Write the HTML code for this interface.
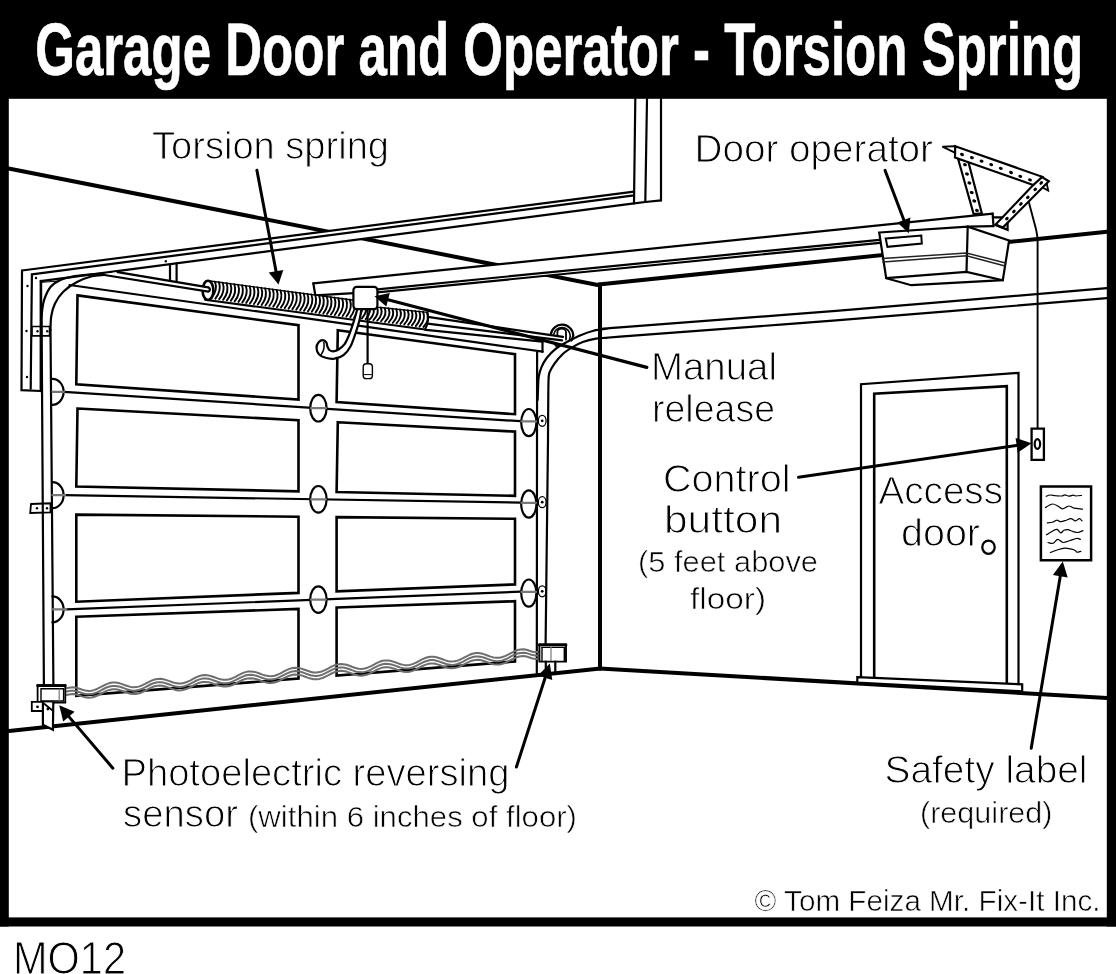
<!DOCTYPE html>
<html><head><meta charset="utf-8"><title>Garage Door and Operator - Torsion Spring</title>
<style>
html,body{margin:0;padding:0;background:#fff;}
body{width:1116px;height:974px;overflow:hidden;font-family:"Liberation Sans",sans-serif;}
svg{display:block;filter:grayscale(100%);}
svg text{font-family:"Liberation Sans",sans-serif;}
</style></head><body>
<svg width="1116" height="974" viewBox="0 0 1116 974" stroke-linecap="butt">
<rect x="0" y="0" width="1116" height="974" fill="#fff"/>
<g id="drawing" stroke-linecap="round">
<line x1="8.6" y1="168.5" x2="599.0" y2="285.2" stroke="#000" stroke-width="4.0" />
<polygon points="22.0,270.5 634.0,191.6 634.0,203.5 645.3,202.0 40.7,281.1" fill="#fff" stroke="none" stroke-width="0" stroke-linejoin="miter" />
<polyline points="22.0,270.5 634.0,191.6" fill="none" stroke="#000" stroke-width="2.2" stroke-linejoin="miter" />
<polyline points="31.9,274.3 634.0,195.4" fill="none" stroke="#000" stroke-width="2.2" stroke-linejoin="miter" />
<polyline points="40.7,281.1 634.0,203.4 645.3,202.0 661.0,200.4" fill="none" stroke="#000" stroke-width="2.2" stroke-linejoin="miter" />
<polyline points="22.0,270.5 21.5,390.2 40.7,391.0" fill="none" stroke="#000" stroke-width="2.2" stroke-linejoin="miter" />
<line x1="31.9" y1="274.3" x2="30.7" y2="388.7" stroke="#000" stroke-width="2.2" />
<line x1="635.3" y1="99.0" x2="634.0" y2="203.4" stroke="#000" stroke-width="2.2" />
<line x1="647.0" y1="99.0" x2="645.3" y2="202.0" stroke="#000" stroke-width="2.2" />
<line x1="661.0" y1="99.0" x2="661.0" y2="200.4" stroke="#000" stroke-width="2.2" />
<circle cx="27.5" cy="286" r="1.2" fill="#000"/>
<circle cx="26.5" cy="331" r="1.2" fill="#000"/>
<circle cx="27" cy="377" r="1.2" fill="#000"/>
<circle cx="36" cy="278" r="1.2" fill="#000"/>
<circle cx="165.8" cy="261.3" r="1.2" fill="#000"/>
<line x1="600.0" y1="284.5" x2="600.0" y2="668.4" stroke="#000" stroke-width="4.0" />
<line x1="598.5" y1="284.6" x2="1107.0" y2="231.7" stroke="#000" stroke-width="4.0" />
<line x1="9.0" y1="731.0" x2="600.5" y2="668.4" stroke="#000" stroke-width="4.0" />
<line x1="599.5" y1="668.4" x2="1107.0" y2="698.0" stroke="#000" stroke-width="4.0" />
<path d="M537.6,400.0 C537.7,398.3 537.8,393.9 538.0,390.0 C538.2,386.1 538.1,380.6 538.7,376.8 C539.3,373.0 540.1,370.5 541.4,367.4 C542.7,364.3 544.3,361.1 546.7,358.0 C549.1,354.9 552.6,351.4 556.0,348.7 C559.4,346.0 562.8,344.2 566.8,342.0 C570.8,339.8 575.5,337.3 580.0,335.4 C584.5,333.5 589.0,331.8 593.5,330.7 C598.0,329.6 602.4,329.2 606.8,328.7 C611.2,328.1 581.8,330.4 620.0,327.4 C658.2,324.4 754.8,317.3 836.0,310.8 C917.2,304.3 1061.8,292.0 1107.0,288.2" fill="none" stroke="#000" stroke-width="2.2" />
<path d="M548.0,440.0 C548.0,432.5 548.2,405.5 548.3,395.0 C548.4,384.5 548.4,380.7 548.7,376.8 C549.0,372.9 549.0,373.6 550.0,371.4 C551.0,369.2 552.6,366.3 554.7,363.4 C556.8,360.5 559.9,356.7 562.8,354.0 C565.7,351.3 568.8,349.4 572.1,347.4 C575.4,345.4 578.8,343.4 582.8,342.0 C586.8,340.6 592.0,339.4 596.0,338.7 C600.0,338.0 602.8,338.1 606.8,337.8 C610.8,337.5 581.8,339.6 620.0,336.7 C658.2,333.8 754.8,326.7 836.0,320.3 C917.2,313.9 1061.8,301.9 1107.0,298.2" fill="none" stroke="#000" stroke-width="2.2" />
<polygon points="313.3,283.3 880.0,225.3 880.0,242.8 377.5,292.4 354.0,293.4 315.3,295.3" fill="#fff" stroke="none" stroke-width="0" stroke-linejoin="miter" />
<line x1="313.3" y1="283.3" x2="992.8" y2="213.7" stroke="#000" stroke-width="2.2" />
<line x1="313.3" y1="283.3" x2="315.3" y2="295.3" stroke="#000" stroke-width="2.2" />
<line x1="315.3" y1="295.3" x2="354.0" y2="293.2" stroke="#000" stroke-width="2.2" />
<line x1="377.5" y1="289.3" x2="879.5" y2="239.8" stroke="#000" stroke-width="2.2" />
<line x1="377.5" y1="292.4" x2="880.0" y2="242.8" stroke="#000" stroke-width="2.2" />
<line x1="992.6" y1="213.5" x2="993.5" y2="226.2" stroke="#000" stroke-width="2.2" />
<line x1="967.7" y1="226.7" x2="993.5" y2="226.2" stroke="#000" stroke-width="2.2" />
<polygon points="879.2,232.5 967.7,226.7 1009.1,240.5 1002.8,280.2 911.3,285.2 886.2,278.2" fill="#fff" stroke="#000" stroke-width="2.2" stroke-linejoin="miter" />
<line x1="967.7" y1="226.7" x2="966.5" y2="271.9" stroke="#000" stroke-width="2.2" />
<polyline points="886.2,278.2 966.5,271.9 1002.8,280.2" fill="none" stroke="#000" stroke-width="2.2" stroke-linejoin="miter" />
<polyline points="882.4,258.6 966.5,253.0 1005.6,263.1" fill="none" stroke="#222" stroke-width="1.5" stroke-linejoin="miter" />
<polyline points="883.0,261.9 966.5,255.8 1005.0,266.0" fill="none" stroke="#222" stroke-width="1.5" stroke-linejoin="miter" />
<polygon points="885.7,238.5 921.3,235.5 921.8,243.5 887.4,246.8" fill="none" stroke="#000" stroke-width="2.0" stroke-linejoin="miter" />
<polygon points="958.0,158.5 968.4,162.0 981.8,213.3 973.7,214.2" fill="#fff" stroke="#000" stroke-width="2.2" stroke-linejoin="miter" />
<ellipse cx="965.0" cy="164.7" rx="2.0" ry="1.55" fill="#000" transform="rotate(15 965.0 164.7)"/>
<ellipse cx="967.0" cy="174.0" rx="2.0" ry="1.55" fill="#000" transform="rotate(15 967.0 174.0)"/>
<ellipse cx="969.4" cy="183.0" rx="2.0" ry="1.55" fill="#000" transform="rotate(15 969.4 183.0)"/>
<ellipse cx="971.7" cy="192.6" rx="2.0" ry="1.55" fill="#000" transform="rotate(15 971.7 192.6)"/>
<ellipse cx="974.3" cy="201.0" rx="2.0" ry="1.55" fill="#000" transform="rotate(15 974.3 201.0)"/>
<ellipse cx="977.0" cy="210.4" rx="2.0" ry="1.55" fill="#000" transform="rotate(15 977.0 210.4)"/>
<polygon points="1041.2,176.6 1048.8,181.3 1002.8,227.6 995.6,224.6" fill="#fff" stroke="#000" stroke-width="2.2" stroke-linejoin="miter" />
<ellipse cx="1041.2" cy="183.0" rx="2.0" ry="1.55" fill="#000" transform="rotate(-45 1041.2 183.0)"/>
<ellipse cx="1035.2" cy="189.4" rx="2.0" ry="1.55" fill="#000" transform="rotate(-45 1035.2 189.4)"/>
<ellipse cx="1027.8" cy="197.3" rx="2.0" ry="1.55" fill="#000" transform="rotate(-45 1027.8 197.3)"/>
<ellipse cx="1020.9" cy="204.0" rx="2.0" ry="1.55" fill="#000" transform="rotate(-45 1020.9 204.0)"/>
<ellipse cx="1013.9" cy="211.5" rx="2.0" ry="1.55" fill="#000" transform="rotate(-45 1013.9 211.5)"/>
<ellipse cx="1006.9" cy="218.7" rx="2.0" ry="1.55" fill="#000" transform="rotate(-45 1006.9 218.7)"/>
<polyline points="1046.8,183.6 1048.2,190.6 1043.4,188.0" fill="none" stroke="#000" stroke-width="1.8" stroke-linejoin="miter" />
<polygon points="955.2,146.2 1042.3,176.8 1033.2,185.0 955.0,157.5" fill="#fff" stroke="#000" stroke-width="2.2" stroke-linejoin="miter" />
<ellipse cx="962.0" cy="154.5" rx="2.0" ry="1.55" fill="#000" transform="rotate(19 962.0 154.5)"/>
<ellipse cx="971.9" cy="157.7" rx="2.0" ry="1.55" fill="#000" transform="rotate(19 971.9 157.7)"/>
<ellipse cx="981.6" cy="161.2" rx="2.0" ry="1.55" fill="#000" transform="rotate(19 981.6 161.2)"/>
<ellipse cx="991.2" cy="164.6" rx="2.0" ry="1.55" fill="#000" transform="rotate(19 991.2 164.6)"/>
<ellipse cx="1000.8" cy="168.4" rx="2.0" ry="1.55" fill="#000" transform="rotate(19 1000.8 168.4)"/>
<ellipse cx="1011.0" cy="172.5" rx="2.0" ry="1.55" fill="#000" transform="rotate(19 1011.0 172.5)"/>
<ellipse cx="1020.3" cy="176.4" rx="2.0" ry="1.55" fill="#000" transform="rotate(19 1020.3 176.4)"/>
<ellipse cx="1030.0" cy="179.9" rx="2.0" ry="1.55" fill="#000" transform="rotate(19 1030.0 179.9)"/>
<polyline points="955.4,146.2 942.4,146.6 954.8,152.6" fill="none" stroke="#000" stroke-width="1.9" stroke-linejoin="miter" />
<polyline points="993.0,217.4 1002.5,217.4" fill="none" stroke="#000" stroke-width="2.2" stroke-linejoin="miter" />
<polyline points="996.0,225.2 1007.6,229.8 1007.6,223.0" fill="none" stroke="#000" stroke-width="2.2" stroke-linejoin="miter" />
<path d="M1029,202.8 L1036.2,230 Q1037.6,236 1037.6,242 L1037.6,428" fill="none" stroke="#000" stroke-width="1.9" />
<polyline points="861.0,677.0 861.0,384.2 1018.5,372.9 1018.5,684.0" fill="none" stroke="#000" stroke-width="2.2" stroke-linejoin="miter" />
<polyline points="874.2,678.0 874.2,393.7 1006.8,386.2 1006.8,684.0" fill="none" stroke="#000" stroke-width="2.6" stroke-linejoin="miter" />
<polygon points="857.3,677.2 1022.2,684.3 1022.2,691.3 857.3,682.5" fill="#fff" stroke="#000" stroke-width="2.2" stroke-linejoin="miter" />
<ellipse cx="988.5" cy="547.2" rx="6.2" ry="6.6" fill="none" stroke="#000" stroke-width="2.3" />
<polygon points="1031.6,428.6 1043.9,428.6 1043.9,459.8 1031.6,459.8" fill="#fff" stroke="#000" stroke-width="2.3" stroke-linejoin="miter" />
<ellipse cx="1037.4" cy="444.0" rx="2.7" ry="4.8" fill="none" stroke="#000" stroke-width="2.2" />
<polygon points="1040.9,486.5 1091.1,486.5 1091.1,560.2 1040.9,560.2" fill="#fff" stroke="#000" stroke-width="2.5" stroke-linejoin="miter" />
<path d="M1046.2,496.3 C1046.8,496.1 1048.5,495.1 1050.0,495.0 C1051.6,494.9 1053.5,495.5 1055.4,495.7 C1057.4,495.8 1060.0,496.1 1061.6,496.0 C1063.2,495.8 1063.8,494.9 1065.0,494.9 C1066.2,494.9 1067.6,496.1 1069.0,496.1 C1070.4,496.2 1072.0,495.2 1073.2,495.2 C1074.3,495.2 1074.4,495.9 1075.8,496.0 C1077.2,496.0 1080.7,495.6 1081.6,495.5" fill="none" stroke="#000" stroke-width="1.2" stroke-linecap="round"/>
<path d="M1045.4,507.5 C1046.1,507.1 1048.0,505.8 1049.3,505.2 C1050.6,504.6 1051.7,503.8 1053.1,504.0 C1054.5,504.1 1056.2,505.2 1057.8,506.0 C1059.3,506.8 1061.0,508.5 1062.4,508.8 C1063.8,509.0 1065.1,507.7 1066.2,507.2 C1067.4,506.7 1068.0,505.8 1069.3,506.0 C1070.6,506.1 1071.7,507.6 1073.9,508.1 C1076.1,508.6 1081.0,508.9 1082.4,509.1" fill="none" stroke="#000" stroke-width="1.2" stroke-linecap="round"/>
<path d="M1047.4,522.9 C1048.4,522.8 1051.5,522.5 1053.1,522.0 C1054.7,521.5 1055.7,520.2 1057.0,520.2 C1058.3,520.1 1059.3,521.7 1060.8,521.7 C1062.4,521.7 1064.6,520.7 1066.2,520.2 C1067.9,519.6 1069.3,518.5 1070.8,518.6 C1072.4,518.7 1074.1,520.9 1075.5,520.9 C1076.9,520.9 1078.2,518.6 1079.3,518.6 C1080.4,518.6 1081.6,520.5 1082.1,520.9" fill="none" stroke="#000" stroke-width="1.2" stroke-linecap="round"/>
<path d="M1046.5,534.8 C1047.5,534.2 1050.6,532.1 1052.4,531.2 C1054.1,530.3 1055.6,529.1 1057.0,529.4 C1058.4,529.7 1059.7,532.6 1060.8,532.8 C1062.0,532.9 1062.8,530.8 1063.9,530.3 C1065.1,529.8 1066.2,529.5 1067.8,529.7 C1069.3,529.9 1071.5,531.1 1073.2,531.6 C1074.8,532.0 1076.2,532.6 1077.8,532.5 C1079.4,532.3 1082.0,530.9 1082.9,530.6" fill="none" stroke="#000" stroke-width="1.2" stroke-linecap="round"/>
<path d="M1048.0,542.5 C1048.9,542.6 1051.5,543.8 1053.1,543.3 C1054.7,542.8 1056.1,539.5 1057.8,539.4 C1059.4,539.3 1061.1,542.3 1063.1,542.5 C1065.2,542.7 1067.8,541.2 1070.1,540.5 C1072.4,539.8 1075.3,538.5 1077.0,538.3 C1078.7,538.2 1079.8,539.2 1080.4,539.4" fill="none" stroke="#000" stroke-width="1.2" stroke-linecap="round"/>
<path d="M1050.4,552.5 C1051.6,552.0 1055.4,550.5 1057.8,549.7 C1060.1,549.0 1062.4,548.3 1064.7,548.2 C1067.0,548.1 1069.9,548.8 1071.6,549.1 C1073.4,549.5 1074.3,549.8 1075.2,550.4 C1076.1,550.9 1076.1,552.0 1077.0,552.2 C1078.0,552.4 1080.2,551.4 1080.9,551.3" fill="none" stroke="#000" stroke-width="1.2" stroke-linecap="round"/>
<path d="M41.5,322.0 C41.6,320.0 41.7,313.9 42.2,310.0 C42.7,306.1 43.2,302.3 44.6,298.5 C46.0,294.7 47.9,290.1 50.5,287.0 C53.1,283.9 56.4,281.8 60.5,280.0 C64.6,278.2 70.1,277.1 75.0,276.2 C79.9,275.3 85.7,275.0 90.0,274.6 C94.3,274.2 99.2,273.8 101.0,273.6" fill="none" stroke="#000" stroke-width="2.2" />
<path d="M50.5,330.0 C50.6,327.7 50.5,320.4 51.3,316.0 C52.0,311.6 53.0,307.6 55.0,303.5 C57.0,299.4 59.8,295.1 63.5,291.5 C67.2,287.9 72.2,284.5 77.0,282.0 C81.8,279.5 87.5,277.5 92.0,276.3 C96.5,275.1 102.0,275.1 104.0,274.8" fill="none" stroke="#000" stroke-width="2.2" />
<line x1="40.9" y1="281.0" x2="40.9" y2="391.0" stroke="#000" stroke-width="2.6" />
<line x1="41.6" y1="322.0" x2="43.9" y2="685.0" stroke="#000" stroke-width="2.2" />
<line x1="50.5" y1="330.0" x2="53.4" y2="685.0" stroke="#000" stroke-width="2.2" />
<polyline points="41.9,282.3 57.0,281.2 50.5,286.4" fill="none" stroke="#000" stroke-width="1.0" stroke-linejoin="miter" />
<line x1="170.0" y1="264.5" x2="170.0" y2="280.3" stroke="#000" stroke-width="2.2" />
<line x1="176.6" y1="263.7" x2="176.6" y2="281.3" stroke="#000" stroke-width="2.2" />
<line x1="69.5" y1="285.0" x2="542.5" y2="351.6" stroke="#000" stroke-width="2.2" />
<line x1="542.5" y1="341.7" x2="542.5" y2="352.0" stroke="#000" stroke-width="2.2" />
<line x1="426.0" y1="329.8" x2="542.5" y2="341.7" stroke="#000" stroke-width="2.2" />
<line x1="537.1" y1="352.5" x2="536.8" y2="673.5" stroke="#000" stroke-width="2.2" />
<polygon points="77.5,295.4 298.5,325.2 298.5,399.5 76.3,384.4" fill="none" stroke="#000" stroke-width="2.6" stroke-linejoin="miter" />
<polygon points="337.8,330.3 515.0,354.2 515.0,414.2 336.6,402.1" fill="none" stroke="#000" stroke-width="2.6" stroke-linejoin="miter" />
<polygon points="77.5,408.5 298.5,420.2 298.5,491.3 76.3,486.6" fill="none" stroke="#000" stroke-width="2.6" stroke-linejoin="miter" />
<polygon points="337.8,422.2 515.0,431.6 515.0,495.8 336.6,492.1" fill="none" stroke="#000" stroke-width="2.6" stroke-linejoin="miter" />
<polygon points="76.3,514.6 298.5,516.7 298.5,592.9 76.3,601.7" fill="none" stroke="#000" stroke-width="2.6" stroke-linejoin="miter" />
<polygon points="336.6,517.1 515.0,518.8 515.0,584.4 336.6,591.4" fill="none" stroke="#000" stroke-width="2.6" stroke-linejoin="miter" />
<polygon points="76.3,616.8 298.5,608.9 298.5,678.5 76.3,695.9" fill="none" stroke="#000" stroke-width="2.6" stroke-linejoin="miter" />
<polygon points="336.6,607.5 515.0,601.2 515.0,661.5 336.6,675.5" fill="none" stroke="#000" stroke-width="2.6" stroke-linejoin="miter" />
<line x1="64.0" y1="391.8" x2="520.5" y2="421.2" stroke="#000" stroke-width="2.2" />
<line x1="65.0" y1="495.2" x2="520.8" y2="502.6" stroke="#000" stroke-width="2.2" />
<line x1="66.3" y1="609.4" x2="520.8" y2="591.7" stroke="#000" stroke-width="2.2" />
<path d="M52.4,378.8 A11.2,13 0 0 1 52.4,404.8" fill="none" stroke="#000" stroke-width="2.2" />
<line x1="52.4" y1="391.8" x2="64.0" y2="391.8" stroke="#777" stroke-width="2.2" />
<ellipse cx="318.4" cy="408.2" rx="8.2" ry="13.3" fill="#fff" stroke="#000" stroke-width="2.2" />
<line x1="310.9" y1="408.2" x2="325.9" y2="408.2" stroke="#777" stroke-width="2.2" />
<ellipse cx="528.8" cy="422.6" rx="7.6" ry="13.6" fill="#fff" stroke="#000" stroke-width="2.2" />
<line x1="521.5" y1="421.4" x2="536.0" y2="421.4" stroke="#777" stroke-width="2.2" />
<ellipse cx="542.2" cy="420.8" rx="3.9" ry="5.5" fill="#fff" stroke="#000" stroke-width="1.3" />
<circle cx="542.2" cy="420.8" r="1.4" fill="#000"/>
<path d="M52.4,482.2 A11.2,13 0 0 1 52.4,508.2" fill="none" stroke="#000" stroke-width="2.2" />
<line x1="52.4" y1="495.2" x2="65.0" y2="495.2" stroke="#777" stroke-width="2.2" />
<ellipse cx="318.4" cy="499.3" rx="8.2" ry="13.3" fill="#fff" stroke="#000" stroke-width="2.2" />
<line x1="310.9" y1="499.3" x2="325.9" y2="499.3" stroke="#777" stroke-width="2.2" />
<ellipse cx="528.8" cy="504.0" rx="7.6" ry="13.6" fill="#fff" stroke="#000" stroke-width="2.2" />
<line x1="521.5" y1="502.8" x2="536.0" y2="502.8" stroke="#777" stroke-width="2.2" />
<ellipse cx="542.2" cy="502.2" rx="3.9" ry="5.5" fill="#fff" stroke="#000" stroke-width="1.3" />
<circle cx="542.2" cy="502.2" r="1.4" fill="#000"/>
<path d="M52.4,596.4 A11.2,13 0 0 1 52.4,622.4" fill="none" stroke="#000" stroke-width="2.2" />
<line x1="52.4" y1="609.4" x2="66.3" y2="609.4" stroke="#777" stroke-width="2.2" />
<ellipse cx="318.4" cy="599.6" rx="8.2" ry="13.3" fill="#fff" stroke="#000" stroke-width="2.2" />
<line x1="310.9" y1="599.6" x2="325.9" y2="599.6" stroke="#777" stroke-width="2.2" />
<ellipse cx="528.8" cy="593.1" rx="7.6" ry="13.6" fill="#fff" stroke="#000" stroke-width="2.2" />
<line x1="521.5" y1="591.9" x2="536.0" y2="591.9" stroke="#777" stroke-width="2.2" />
<ellipse cx="542.2" cy="591.3" rx="3.9" ry="5.5" fill="#fff" stroke="#000" stroke-width="1.3" />
<circle cx="542.2" cy="591.3" r="1.4" fill="#000"/>
<polygon points="31.9,326.5 49.6,326.5 49.6,335.8 31.9,335.8" fill="none" stroke="#000" stroke-width="1.7" stroke-linejoin="miter" />
<circle cx="37.5" cy="331.3" r="1.2" fill="#000"/>
<circle cx="47.2" cy="331.3" r="1.2" fill="#000"/>
<polygon points="31.0,504.0 50.5,503.3 50.5,512.3 30.2,513.0" fill="none" stroke="#000" stroke-width="1.8" stroke-linejoin="miter" />
<circle cx="37" cy="508.3" r="1.2" fill="#000"/>
<circle cx="47" cy="508.3" r="1.2" fill="#000"/>
<line x1="548.0" y1="440.0" x2="545.6" y2="644.0" stroke="#000" stroke-width="2.2" />
<polygon points="210.0,281.0 354.0,300.2 378.0,307.2 427.5,312.4 425.0,329.6 205,299.7" fill="#fff" stroke="none"/>
<path d="M215.0,281.7 Q218.0,289.9 211.5,298.2" fill="none" stroke="#000" stroke-width="1.9" />
<path d="M218.9,282.2 Q221.9,290.4 215.4,298.7" fill="none" stroke="#000" stroke-width="1.9" />
<path d="M222.7,282.7 Q225.7,291.0 219.2,299.2" fill="none" stroke="#000" stroke-width="1.9" />
<path d="M226.6,283.2 Q229.6,291.5 223.1,299.8" fill="none" stroke="#000" stroke-width="1.9" />
<path d="M230.4,283.7 Q233.4,292.0 226.9,300.3" fill="none" stroke="#000" stroke-width="1.9" />
<path d="M234.3,284.2 Q237.3,292.5 230.8,300.8" fill="none" stroke="#000" stroke-width="1.9" />
<path d="M238.1,284.7 Q241.1,293.0 234.6,301.3" fill="none" stroke="#000" stroke-width="1.9" />
<path d="M242.0,285.3 Q245.0,293.6 238.5,301.9" fill="none" stroke="#000" stroke-width="1.9" />
<path d="M245.8,285.8 Q248.8,294.1 242.3,302.4" fill="none" stroke="#000" stroke-width="1.9" />
<path d="M249.7,286.3 Q252.7,294.6 246.2,302.9" fill="none" stroke="#000" stroke-width="1.9" />
<path d="M253.5,286.8 Q256.5,295.1 250.0,303.4" fill="none" stroke="#000" stroke-width="1.9" />
<path d="M257.4,287.3 Q260.4,295.6 253.9,304.0" fill="none" stroke="#000" stroke-width="1.9" />
<path d="M261.3,287.8 Q264.3,296.1 257.8,304.5" fill="none" stroke="#000" stroke-width="1.9" />
<path d="M265.1,288.3 Q268.1,296.7 261.6,305.0" fill="none" stroke="#000" stroke-width="1.9" />
<path d="M269.0,288.8 Q272.0,297.2 265.5,305.5" fill="none" stroke="#000" stroke-width="1.9" />
<path d="M272.8,289.4 Q275.8,297.7 269.3,306.0" fill="none" stroke="#000" stroke-width="1.9" />
<path d="M276.7,289.9 Q279.7,298.2 273.2,306.6" fill="none" stroke="#000" stroke-width="1.9" />
<path d="M280.5,290.4 Q283.5,298.7 277.0,307.1" fill="none" stroke="#000" stroke-width="1.9" />
<path d="M284.4,290.9 Q287.4,299.3 280.9,307.6" fill="none" stroke="#000" stroke-width="1.9" />
<path d="M288.2,291.4 Q291.2,299.8 284.7,308.1" fill="none" stroke="#000" stroke-width="1.9" />
<path d="M292.1,291.9 Q295.1,300.3 288.6,308.7" fill="none" stroke="#000" stroke-width="1.9" />
<path d="M295.9,292.4 Q298.9,300.8 292.4,309.2" fill="none" stroke="#000" stroke-width="1.9" />
<path d="M299.8,292.9 Q302.8,301.3 296.3,309.7" fill="none" stroke="#000" stroke-width="1.9" />
<path d="M303.7,293.5 Q306.7,301.8 300.2,310.2" fill="none" stroke="#000" stroke-width="1.9" />
<path d="M307.5,294.0 Q310.5,302.4 304.0,310.8" fill="none" stroke="#000" stroke-width="1.9" />
<path d="M311.4,294.5 Q314.4,302.9 307.9,311.3" fill="none" stroke="#000" stroke-width="1.9" />
<path d="M315.2,295.0 Q318.2,303.4 311.7,311.8" fill="none" stroke="#000" stroke-width="1.9" />
<path d="M319.1,295.5 Q322.1,303.9 315.6,312.3" fill="none" stroke="#000" stroke-width="1.9" />
<path d="M322.9,296.0 Q325.9,304.4 319.4,312.9" fill="none" stroke="#000" stroke-width="1.9" />
<path d="M326.8,296.5 Q329.8,305.0 323.3,313.4" fill="none" stroke="#000" stroke-width="1.9" />
<path d="M330.6,297.0 Q333.6,305.5 327.1,313.9" fill="none" stroke="#000" stroke-width="1.9" />
<path d="M334.5,297.6 Q337.5,306.0 331.0,314.4" fill="none" stroke="#000" stroke-width="1.9" />
<path d="M338.3,298.1 Q341.3,306.5 334.8,315.0" fill="none" stroke="#000" stroke-width="1.9" />
<path d="M342.2,298.6 Q345.2,307.0 338.7,315.5" fill="none" stroke="#000" stroke-width="1.9" />
<path d="M346.1,299.1 Q349.1,307.6 342.6,316.0" fill="none" stroke="#000" stroke-width="1.9" />
<path d="M349.9,299.6 Q352.9,308.1 346.4,316.5" fill="none" stroke="#000" stroke-width="1.9" />
<path d="M353.8,300.1 Q356.8,308.6 350.3,317.1" fill="none" stroke="#000" stroke-width="1.9" />
<path d="M357.6,301.3 Q360.6,309.4 354.1,317.6" fill="none" stroke="#000" stroke-width="1.9" />
<path d="M361.5,302.4 Q364.5,310.2 358.0,318.1" fill="none" stroke="#000" stroke-width="1.9" />
<path d="M365.3,303.5 Q368.3,311.1 361.8,318.6" fill="none" stroke="#000" stroke-width="1.9" />
<path d="M369.2,304.6 Q372.2,311.9 365.7,319.2" fill="none" stroke="#000" stroke-width="1.9" />
<path d="M373.0,305.8 Q376.0,312.7 369.5,319.7" fill="none" stroke="#000" stroke-width="1.9" />
<path d="M376.9,306.9 Q379.9,313.5 373.4,320.2" fill="none" stroke="#000" stroke-width="1.9" />
<path d="M380.7,307.5 Q383.7,314.1 377.2,320.7" fill="none" stroke="#000" stroke-width="1.9" />
<path d="M384.6,307.9 Q387.6,314.6 381.1,321.2" fill="none" stroke="#000" stroke-width="1.9" />
<path d="M388.5,308.3 Q391.5,315.0 385.0,321.8" fill="none" stroke="#000" stroke-width="1.9" />
<path d="M392.3,308.7 Q395.3,315.5 388.8,322.3" fill="none" stroke="#000" stroke-width="1.9" />
<path d="M396.2,309.1 Q399.2,316.0 392.7,322.8" fill="none" stroke="#000" stroke-width="1.9" />
<path d="M400.0,309.5 Q403.0,316.4 396.5,323.3" fill="none" stroke="#000" stroke-width="1.9" />
<path d="M403.9,309.9 Q406.9,316.9 400.4,323.9" fill="none" stroke="#000" stroke-width="1.9" />
<path d="M407.7,310.3 Q410.7,317.4 404.2,324.4" fill="none" stroke="#000" stroke-width="1.9" />
<path d="M411.6,310.7 Q414.6,317.8 408.1,324.9" fill="none" stroke="#000" stroke-width="1.9" />
<path d="M415.4,311.1 Q418.4,318.3 411.9,325.4" fill="none" stroke="#000" stroke-width="1.9" />
<path d="M419.3,311.5 Q422.3,318.8 415.8,326.0" fill="none" stroke="#000" stroke-width="1.9" />
<path d="M423.1,311.9 Q426.1,319.2 419.6,326.5" fill="none" stroke="#000" stroke-width="1.9" />
<path d="M427.0,312.3 Q430.0,319.7 423.5,327.0" fill="none" stroke="#000" stroke-width="1.9" />
<polyline points="210.0,281.0 354.0,300.2 378.0,307.2 427.5,312.4" fill="none" stroke="#000" stroke-width="1.4"/>
<line x1="205.0" y1="299.7" x2="425.0" y2="329.6" stroke="#000" stroke-width="2.0" />
<path d="M427.5,312.4 Q429.5,321 425.0,329.6" fill="none" stroke="#000" stroke-width="2.0" />
<ellipse cx="208.0" cy="290.4" rx="5.4" ry="9.6" fill="#fff" stroke="#000" stroke-width="2.6" />
<path d="M117.6,272.1 L208.2,287.3 Q211.6,289.6 208.2,291.7 L101.3,274.5 Z" fill="#fff" stroke="none"/>
<path d="M117.6,272.1 L208.2,287.3 Q211.8,289.6 208.2,291.7 L101.3,274.5" fill="none" stroke="#000" stroke-width="2.2" />
<line x1="427.8" y1="316.9" x2="563.0" y2="336.9" stroke="#000" stroke-width="2.2" />
<line x1="427.5" y1="323.7" x2="562.0" y2="340.4" stroke="#000" stroke-width="2.2" />
<path d="M550.8,334.5 A11.3,11.3 0 0 1 573.3,335.5 L571.5,340.5" fill="none" stroke="#000" stroke-width="2.2" />
<path d="M553.6,334.9 A8.4,8.8 0 0 1 570.3,336 L569.3,341" fill="none" stroke="#000" stroke-width="1.6" />
<path d="M557.4,335.6 L557.4,332.2 A4.3,3.6 0 0 1 566,332.2 L566,339.5" fill="none" stroke="#000" stroke-width="1.8" />
<path d="M553.2,342 L560.5,343.6 L559,347.6 L555,346.4 Z" fill="#000"/>
<path d="M361.4,309.5 C361.1,311.2 360.4,316.3 359.5,320.0 C358.6,323.7 357.5,327.4 356.0,331.8 C354.5,336.2 352.7,342.3 350.6,346.2 C348.5,350.1 346.2,353.0 343.5,355.1 C340.8,357.2 337.5,358.2 334.5,358.7 C331.5,359.1 328.2,358.6 325.6,357.8 C323.0,357.1 320.4,355.8 318.9,354.2 C317.4,352.6 316.6,350.0 316.5,348.0 C316.4,346.0 317.5,343.5 318.6,342.2 C319.7,340.9 321.6,340.2 322.9,340.2 C324.2,340.2 325.6,341.4 326.3,342.4 C327.0,343.4 327.1,345.6 327.3,346.2 L327.3,346.2 C327.6,346.8 328.2,348.9 329.1,349.8 C330.0,350.7 331.2,351.3 332.7,351.3 C334.2,351.3 336.2,351.0 338.1,349.8 C340.1,348.6 342.6,346.8 344.4,344.4 C346.2,342.0 347.4,339.0 348.9,335.4 C350.4,331.8 351.9,327.2 353.3,322.9 C354.7,318.6 356.6,311.7 357.2,309.5" fill="#fff" stroke="#000" stroke-width="2.2" />
<path d="M323.8,342.2 Q325.2,349 321.3,354.4" fill="none" stroke="#000" stroke-width="1.5" />
<line x1="367.6" y1="309.0" x2="367.6" y2="364.0" stroke="#000" stroke-width="2.2" />
<rect x="363.2" y="363.8" width="9.2" height="14.8" rx="3.2" fill="#fff" stroke="#000" stroke-width="1.4"/>
<line x1="363.4" y1="374.6" x2="372.2" y2="374.6" stroke="#000" stroke-width="1.0" />
<rect x="353.4" y="286.8" width="24" height="22.3" rx="3.4" fill="#fff" stroke="#000" stroke-width="2.2"/>
<path d="M64.5,688.6 L67.5,687.9 L70.5,687.4 L73.5,687.3 L76.5,687.8 L79.5,688.8 L82.5,689.8 L85.5,690.6 L88.5,690.9 L91.5,690.7 L94.5,689.9 L97.5,688.7 L100.5,687.2 L103.5,685.6 L106.5,684.1 L109.5,683.1 L112.5,682.5 L115.5,682.5 L118.5,683.0 L121.5,683.9 L124.5,685.0 L127.5,686.0 L130.5,686.9 L133.5,687.3 L136.5,687.1 L139.5,686.4 L142.5,685.2 L145.5,683.7 L148.5,682.1 L151.5,680.6 L154.5,679.5 L157.5,678.9 L160.5,678.8 L163.5,679.2 L166.5,680.1 L169.5,681.1 L172.5,682.2 L175.5,683.1 L178.5,683.6 L181.5,683.5 L184.5,682.8 L187.5,681.7 L190.5,680.3 L193.5,678.7 L196.5,677.1 L199.5,676.0 L202.5,675.2 L205.5,675.1 L208.5,675.4 L211.5,676.2 L214.5,677.3 L217.5,678.4 L220.5,679.3 L223.5,679.8 L226.5,679.8 L229.5,679.3 L232.5,678.2 L235.5,676.8 L238.5,675.2 L241.5,673.7 L244.5,672.4 L247.5,671.6 L250.5,671.4 L253.5,671.7 L256.5,672.4 L259.5,673.5 L262.5,674.6 L265.5,675.5 L268.5,676.1 L271.5,676.2 L274.5,675.7 L277.5,674.7 L280.5,673.3 L283.5,671.7 L286.5,670.2 L289.5,668.9 L292.5,668.0 L295.5,667.7 L298.5,667.9 L301.5,668.6 L304.5,669.7 L307.5,670.8 L310.5,671.8 L313.5,672.4 L316.5,672.5 L319.5,672.1 L322.5,671.2 L325.5,669.8 L328.5,668.3 L331.5,666.7 L334.5,665.3 L337.5,664.4 L340.5,664.0 L343.5,664.2 L346.5,664.8 L349.5,665.8 L352.5,667.0 L355.5,668.0 L358.5,668.7 L361.5,668.9 L364.5,668.5 L367.5,667.7 L370.5,666.4 L373.5,664.8 L376.5,663.2 L379.5,661.8 L382.5,660.8 L385.5,660.4 L388.5,660.5 L391.5,661.1 L394.5,662.0 L397.5,663.1 L400.5,664.2 L403.5,664.9 L406.5,665.2 L409.5,664.9 L412.5,664.1 L415.5,662.9 L418.5,661.3 L421.5,659.7 L424.5,658.3 L427.5,657.3 L430.5,656.7 L433.5,656.7 L436.5,657.3 L439.5,658.2 L442.5,659.3 L445.5,660.4 L448.5,661.2 L451.5,661.5 L454.5,661.3 L457.5,660.6 L460.5,659.4 L463.5,657.9 L466.5,656.3 L469.5,654.8 L472.5,653.7 L475.5,653.1 L478.5,653.0 L481.5,653.5 L484.5,654.4 L487.5,655.5 L490.5,656.6 L493.5,657.4 L496.5,657.8 L499.5,657.7 L502.5,657.0 L505.5,655.9 L508.5,654.4 L511.5,652.8 L514.5,651.3 L517.5,650.1 L520.5,649.5 L523.5,649.3 L526.5,649.7 L529.5,650.7 L532.5,651.7 L535.5,652.1 L538.5,652.0 L541.5,652.0" fill="none" stroke="#6e6e6e" stroke-width="2.0" stroke-linejoin="round"/>
<path d="M64.5,692.0 L67.5,691.3 L70.5,690.8 L73.5,690.7 L76.5,691.2 L79.5,692.2 L82.5,693.2 L85.5,694.0 L88.5,694.3 L91.5,694.1 L94.5,693.3 L97.5,692.1 L100.5,690.6 L103.5,689.0 L106.5,687.5 L109.5,686.5 L112.5,685.9 L115.5,685.9 L118.5,686.4 L121.5,687.3 L124.5,688.4 L127.5,689.4 L130.5,690.3 L133.5,690.7 L136.5,690.5 L139.5,689.8 L142.5,688.6 L145.5,687.1 L148.5,685.5 L151.5,684.0 L154.5,682.9 L157.5,682.3 L160.5,682.2 L163.5,682.6 L166.5,683.5 L169.5,684.5 L172.5,685.6 L175.5,686.5 L178.5,687.0 L181.5,686.9 L184.5,686.2 L187.5,685.1 L190.5,683.7 L193.5,682.1 L196.5,680.5 L199.5,679.4 L202.5,678.6 L205.5,678.5 L208.5,678.8 L211.5,679.6 L214.5,680.7 L217.5,681.8 L220.5,682.7 L223.5,683.2 L226.5,683.2 L229.5,682.7 L232.5,681.6 L235.5,680.2 L238.5,678.6 L241.5,677.1 L244.5,675.8 L247.5,675.0 L250.5,674.8 L253.5,675.1 L256.5,675.8 L259.5,676.9 L262.5,678.0 L265.5,678.9 L268.5,679.5 L271.5,679.6 L274.5,679.1 L277.5,678.1 L280.5,676.7 L283.5,675.1 L286.5,673.6 L289.5,672.3 L292.5,671.4 L295.5,671.1 L298.5,671.3 L301.5,672.0 L304.5,673.1 L307.5,674.2 L310.5,675.2 L313.5,675.8 L316.5,675.9 L319.5,675.5 L322.5,674.6 L325.5,673.2 L328.5,671.7 L331.5,670.1 L334.5,668.7 L337.5,667.8 L340.5,667.4 L343.5,667.6 L346.5,668.2 L349.5,669.2 L352.5,670.4 L355.5,671.4 L358.5,672.1 L361.5,672.3 L364.5,671.9 L367.5,671.1 L370.5,669.8 L373.5,668.2 L376.5,666.6 L379.5,665.2 L382.5,664.2 L385.5,663.8 L388.5,663.9 L391.5,664.5 L394.5,665.4 L397.5,666.5 L400.5,667.6 L403.5,668.3 L406.5,668.6 L409.5,668.3 L412.5,667.5 L415.5,666.3 L418.5,664.7 L421.5,663.1 L424.5,661.7 L427.5,660.7 L430.5,660.1 L433.5,660.1 L436.5,660.7 L439.5,661.6 L442.5,662.7 L445.5,663.8 L448.5,664.6 L451.5,664.9 L454.5,664.7 L457.5,664.0 L460.5,662.8 L463.5,661.3 L466.5,659.7 L469.5,658.2 L472.5,657.1 L475.5,656.5 L478.5,656.4 L481.5,656.9 L484.5,657.8 L487.5,658.9 L490.5,660.0 L493.5,660.8 L496.5,661.2 L499.5,661.1 L502.5,660.4 L505.5,659.3 L508.5,657.8 L511.5,656.2 L514.5,654.7 L517.5,653.5 L520.5,652.9 L523.5,652.7 L526.5,653.1 L529.5,654.1 L532.5,655.1 L535.5,655.5 L538.5,655.4 L541.5,655.4" fill="none" stroke="#6e6e6e" stroke-width="2.0" stroke-linejoin="round"/>
<path d="M64.5,695.4 L67.5,694.7 L70.5,694.2 L73.5,694.1 L76.5,694.6 L79.5,695.6 L82.5,696.6 L85.5,697.4 L88.5,697.7 L91.5,697.5 L94.5,696.7 L97.5,695.5 L100.5,694.0 L103.5,692.4 L106.5,690.9 L109.5,689.9 L112.5,689.3 L115.5,689.3 L118.5,689.8 L121.5,690.7 L124.5,691.8 L127.5,692.8 L130.5,693.7 L133.5,694.1 L136.5,693.9 L139.5,693.2 L142.5,692.0 L145.5,690.5 L148.5,688.9 L151.5,687.4 L154.5,686.3 L157.5,685.7 L160.5,685.6 L163.5,686.0 L166.5,686.9 L169.5,687.9 L172.5,689.0 L175.5,689.9 L178.5,690.4 L181.5,690.3 L184.5,689.6 L187.5,688.5 L190.5,687.1 L193.5,685.5 L196.5,683.9 L199.5,682.8 L202.5,682.0 L205.5,681.9 L208.5,682.2 L211.5,683.0 L214.5,684.1 L217.5,685.2 L220.5,686.1 L223.5,686.6 L226.5,686.6 L229.5,686.1 L232.5,685.0 L235.5,683.6 L238.5,682.0 L241.5,680.5 L244.5,679.2 L247.5,678.4 L250.5,678.2 L253.5,678.5 L256.5,679.2 L259.5,680.3 L262.5,681.4 L265.5,682.3 L268.5,682.9 L271.5,683.0 L274.5,682.5 L277.5,681.5 L280.5,680.1 L283.5,678.5 L286.5,677.0 L289.5,675.7 L292.5,674.8 L295.5,674.5 L298.5,674.7 L301.5,675.4 L304.5,676.5 L307.5,677.6 L310.5,678.6 L313.5,679.2 L316.5,679.3 L319.5,678.9 L322.5,678.0 L325.5,676.6 L328.5,675.1 L331.5,673.5 L334.5,672.1 L337.5,671.2 L340.5,670.8 L343.5,671.0 L346.5,671.6 L349.5,672.6 L352.5,673.8 L355.5,674.8 L358.5,675.5 L361.5,675.7 L364.5,675.3 L367.5,674.5 L370.5,673.2 L373.5,671.6 L376.5,670.0 L379.5,668.6 L382.5,667.6 L385.5,667.2 L388.5,667.3 L391.5,667.9 L394.5,668.8 L397.5,669.9 L400.5,671.0 L403.5,671.7 L406.5,672.0 L409.5,671.7 L412.5,670.9 L415.5,669.7 L418.5,668.1 L421.5,666.5 L424.5,665.1 L427.5,664.1 L430.5,663.5 L433.5,663.5 L436.5,664.1 L439.5,665.0 L442.5,666.1 L445.5,667.2 L448.5,668.0 L451.5,668.3 L454.5,668.1 L457.5,667.4 L460.5,666.2 L463.5,664.7 L466.5,663.1 L469.5,661.6 L472.5,660.5 L475.5,659.9 L478.5,659.8 L481.5,660.3 L484.5,661.2 L487.5,662.3 L490.5,663.4 L493.5,664.2 L496.5,664.6 L499.5,664.5 L502.5,663.8 L505.5,662.7 L508.5,661.2 L511.5,659.6 L514.5,658.1 L517.5,656.9 L520.5,656.3 L523.5,656.1 L526.5,656.5 L529.5,657.5 L532.5,658.5 L535.5,658.9 L538.5,658.8 L541.5,658.8" fill="none" stroke="#6e6e6e" stroke-width="2.0" stroke-linejoin="round"/>
<polygon points="37.6,685.2 65.3,685.2 65.3,702.6 37.6,702.6" fill="#fff" stroke="#000" stroke-width="1.8" stroke-linejoin="miter" />
<line x1="37.6" y1="685.7" x2="65.3" y2="685.7" stroke="#000" stroke-width="2.8" />
<polygon points="41.0,688.8 63.6,688.8 63.6,701.0 41.0,701.0" fill="none" stroke="#000" stroke-width="1.4" stroke-linejoin="miter" />
<line x1="59.2" y1="689.0" x2="59.2" y2="700.6" stroke="#777" stroke-width="1.2" />
<polygon points="31.8,701.8 51.6,701.8 51.6,711.0 31.8,711.0" fill="#fff" stroke="#000" stroke-width="1.8" stroke-linejoin="miter" />
<polyline points="42.9,702.6 42.9,724.8 52.9,729.7 53.3,702.6" fill="#fff" stroke="#000" stroke-width="2.2" stroke-linejoin="miter" />
<line x1="43.2" y1="703.0" x2="52.6" y2="710.5" stroke="#000" stroke-width="1.8" />
<circle cx="37.5" cy="706.8" r="1.4" fill="#000"/>
<circle cx="47.9" cy="709.0" r="1.4" fill="#000"/>
<polygon points="539.4,644.4 566.0,644.4 566.0,661.6 539.4,661.6" fill="#fff" stroke="#000" stroke-width="1.9" stroke-linejoin="miter" />
<line x1="539.4" y1="644.9" x2="566.0" y2="644.9" stroke="#000" stroke-width="2.8" />
<polyline points="542.0,647.4 564.3,647.4 564.3,660.6" fill="none" stroke="#000" stroke-width="1.4" stroke-linejoin="miter" />
<line x1="542.0" y1="647.4" x2="542.0" y2="661.0" stroke="#000" stroke-width="1.4" />
<line x1="551.0" y1="647.5" x2="551.0" y2="660.5" stroke="#777" stroke-width="1.2" />
<polyline points="545.8,661.6 545.8,672.2" fill="none" stroke="#000" stroke-width="2.2" stroke-linejoin="miter" />
<polyline points="555.3,661.6 555.3,671.2" fill="none" stroke="#000" stroke-width="2.2" stroke-linejoin="miter" />
<line x1="256.9" y1="170.2" x2="276.4" y2="273.2" stroke="#000" stroke-width="3.0" />
<polygon points="278.5,284.5 268.7,272.6 283.3,269.9" fill="#000"/>
<line x1="885.0" y1="170.3" x2="904.6" y2="222.0" stroke="#000" stroke-width="3.0" />
<polygon points="908.8,233.2 897.3,222.6 910.4,217.6" fill="#000"/>
<line x1="646.8" y1="367.4" x2="386.1" y2="299.2" stroke="#000" stroke-width="3.2" />
<polygon points="374.5,296.2 389.8,293.0 386.3,306.5" fill="#000"/>
<line x1="798.5" y1="477.2" x2="1018.6" y2="445.1" stroke="#000" stroke-width="3.0" />
<polygon points="1031.5,443.2 1017.7,452.8 1015.6,437.9" fill="#000"/>
<line x1="112.9" y1="768.2" x2="67.6" y2="715.1" stroke="#000" stroke-width="3.0" />
<polygon points="59.2,705.2 74.6,711.8 63.2,721.5" fill="#000"/>
<line x1="516.4" y1="767.0" x2="545.8" y2="675.8" stroke="#000" stroke-width="3.0" />
<polygon points="549.8,663.4 552.3,680.0 538.1,675.4" fill="#000"/>
<line x1="1031.2" y1="748.2" x2="1060.6" y2="574.3" stroke="#000" stroke-width="3.0" />
<polygon points="1062.8,561.5 1067.7,577.5 1052.9,575.0" fill="#000"/>
</g>
<g id="frame">
<rect x="0" y="0" width="1116" height="98.8" fill="#000"/>
<rect x="0" y="0" width="8.8" height="926.5" fill="#000"/>
<rect x="1106.8" y="0" width="9.2" height="926.5" fill="#000"/>
<rect x="0" y="917.4" width="1116" height="9.1" fill="#000"/>
</g>
<g id="title">
<text x="35.2" y="75.3" font-size="73.5" font-weight="bold" font-style="normal" fill="#fff" text-anchor="start" textLength="1048" lengthAdjust="spacingAndGlyphs" stroke="#fff" stroke-width="0.7">Garage Door and Operator - Torsion Spring</text>
</g>
<g id="labels">
<text x="152" y="158.6" font-size="39" font-weight="normal" font-style="normal" fill="#000" text-anchor="start" textLength="237" lengthAdjust="spacingAndGlyphs" stroke="#fff" stroke-width="1.0">Torsion spring</text>
<text x="694.5" y="161.8" font-size="39" font-weight="normal" font-style="normal" fill="#000" text-anchor="start" textLength="238.5" lengthAdjust="spacingAndGlyphs" stroke="#fff" stroke-width="1.0">Door operator</text>
<text x="651" y="380.3" font-size="38" font-weight="normal" font-style="normal" fill="#000" text-anchor="start" textLength="126" lengthAdjust="spacingAndGlyphs" stroke="#fff" stroke-width="1.0">Manual</text>
<text x="652" y="421.5" font-size="38" font-weight="normal" font-style="normal" fill="#000" text-anchor="start" textLength="123" lengthAdjust="spacingAndGlyphs" stroke="#fff" stroke-width="1.0">release</text>
<text x="663" y="491.5" font-size="38" font-weight="normal" font-style="normal" fill="#000" text-anchor="start" textLength="127.5" lengthAdjust="spacingAndGlyphs" stroke="#fff" stroke-width="1.0">Control</text>
<text x="664" y="533.3" font-size="38" font-weight="normal" font-style="normal" fill="#000" text-anchor="start" textLength="118" lengthAdjust="spacingAndGlyphs" stroke="#fff" stroke-width="1.0">button</text>
<text x="638" y="571.8" font-size="29" font-weight="normal" font-style="normal" fill="#000" text-anchor="start" textLength="180" lengthAdjust="spacingAndGlyphs" stroke="#fff" stroke-width="0.6">(5 feet above</text>
<text x="690" y="608.6" font-size="29" font-weight="normal" font-style="normal" fill="#000" text-anchor="start" textLength="76" lengthAdjust="spacingAndGlyphs" stroke="#fff" stroke-width="0.6">floor)</text>
<text x="878.5" y="504" font-size="38" font-weight="normal" font-style="normal" fill="#000" text-anchor="start" textLength="124.5" lengthAdjust="spacingAndGlyphs" stroke="#fff" stroke-width="1.0">Access</text>
<text x="901" y="546" font-size="38" font-weight="normal" font-style="normal" fill="#000" text-anchor="start" textLength="79" lengthAdjust="spacingAndGlyphs" stroke="#fff" stroke-width="1.0">door</text>
<text x="121.5" y="786" font-size="38" font-weight="normal" font-style="normal" fill="#000" text-anchor="start" textLength="388" lengthAdjust="spacingAndGlyphs" stroke="#fff" stroke-width="1.0">Photoelectric reversing</text>
<text x="123" y="827" font-size="38" font-weight="normal" font-style="normal" fill="#000" text-anchor="start" textLength="115" lengthAdjust="spacingAndGlyphs" stroke="#fff" stroke-width="1.0">sensor</text>
<text x="248" y="826.5" font-size="29" font-weight="normal" font-style="normal" fill="#000" text-anchor="start" textLength="329" lengthAdjust="spacingAndGlyphs" stroke="#fff" stroke-width="0.6">(within 6 inches of floor)</text>
<text x="884.5" y="783" font-size="38" font-weight="normal" font-style="normal" fill="#000" text-anchor="start" textLength="203" lengthAdjust="spacingAndGlyphs" stroke="#fff" stroke-width="1.0">Safety label</text>
<text x="920" y="823.2" font-size="29" font-weight="normal" font-style="normal" fill="#000" text-anchor="start" textLength="132.5" lengthAdjust="spacingAndGlyphs" stroke="#fff" stroke-width="0.6">(required)</text>
<text x="754.5" y="910.8" font-size="30" font-weight="normal" font-style="normal" fill="#000" text-anchor="start" textLength="346" lengthAdjust="spacingAndGlyphs" stroke="#fff" stroke-width="0.6">© Tom Feiza Mr. Fix-It Inc.</text>
<text x="13" y="973.8" font-size="47" font-weight="normal" font-style="normal" fill="#000" text-anchor="start" textLength="113" lengthAdjust="spacingAndGlyphs" stroke="#fff" stroke-width="1.0">MO12</text>
</g>
</svg>
</body></html>
